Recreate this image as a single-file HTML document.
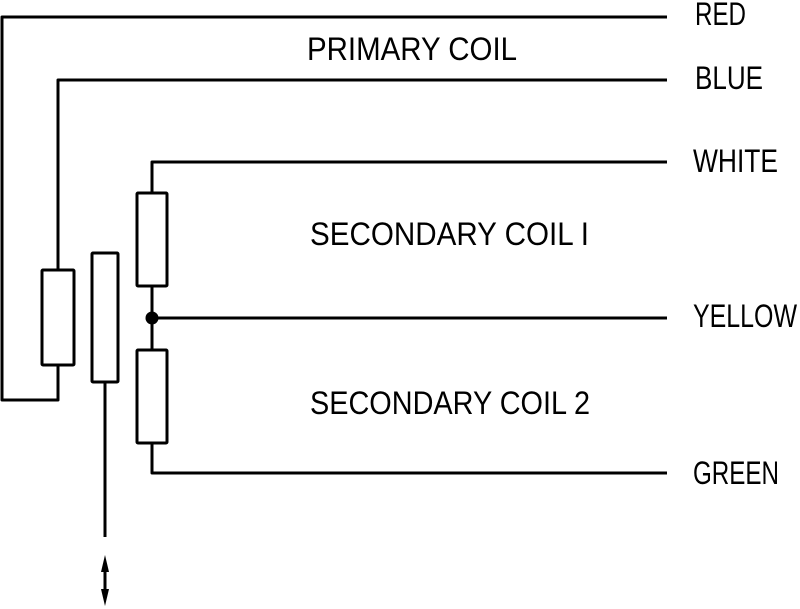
<!DOCTYPE html>
<html><head><meta charset="utf-8"><style>html,body{margin:0;padding:0;background:#fff}svg{display:block}</style></head>
<body>
<svg width="800" height="609" viewBox="0 0 800 609" xmlns="http://www.w3.org/2000/svg">
<g fill="none" stroke="#000" stroke-width="3" stroke-linejoin="round">
<polyline points="667,17 2,17 2,400 58,400 58,365"/>
<polyline points="667,80 58,80 58,270"/>
<rect x="42" y="270" width="32" height="95" rx="1"/>
<rect x="92" y="253" width="26" height="129" rx="1"/>
<line x1="105" y1="382" x2="105" y2="537"/>
<polyline points="667,162 152,162 152,193"/>
<rect x="137" y="193" width="30" height="93" rx="1"/>
<line x1="152" y1="286" x2="152" y2="350"/>
<line x1="152" y1="318" x2="667" y2="318"/>
<rect x="137" y="350" width="30" height="93" rx="1"/>
<polyline points="152,443 152,473 667,473"/>
<line x1="105" y1="562" x2="105" y2="598"/>
</g>
<circle cx="152" cy="318" r="6.5" fill="#000"/>
<polygon points="105,555 101,572 109,572" fill="#000"/>
<polygon points="105,606 101,589 109,589" fill="#000"/>
<g font-family="Liberation Sans, sans-serif" font-size="32" fill="#000">
<text x="695" y="25" textLength="51" lengthAdjust="spacingAndGlyphs">RED</text>
<text x="695" y="89" textLength="68" lengthAdjust="spacingAndGlyphs">BLUE</text>
<text x="693" y="172" textLength="85" lengthAdjust="spacingAndGlyphs">WHITE</text>
<text x="693" y="327" textLength="104" lengthAdjust="spacingAndGlyphs">YELLOW</text>
<text x="693" y="484" textLength="86" lengthAdjust="spacingAndGlyphs">GREEN</text>
<text x="307" y="60" textLength="210" lengthAdjust="spacingAndGlyphs">PRIMARY  COIL</text>
<text x="310" y="245" textLength="279" lengthAdjust="spacingAndGlyphs">SECONDARY  COIL  I</text>
<text x="310" y="414" textLength="280" lengthAdjust="spacingAndGlyphs">SECONDARY  COIL  2</text>
</g>
</svg>
</body></html>
